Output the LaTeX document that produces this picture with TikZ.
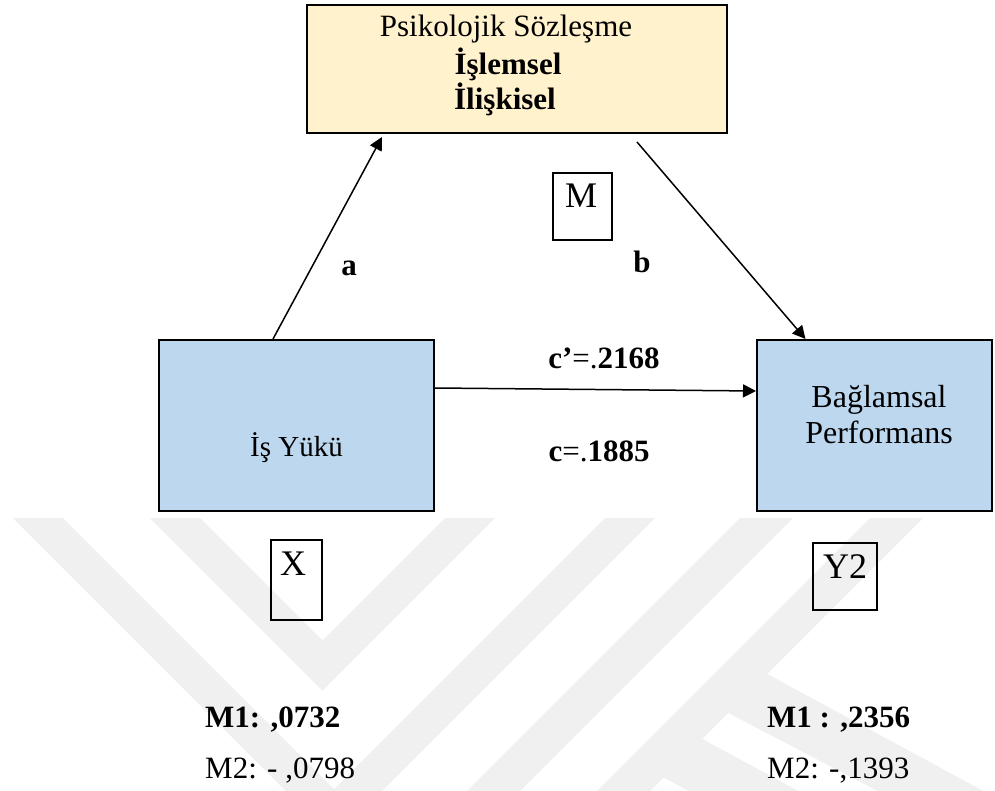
\documentclass[tikz,border=0pt]{standalone}
\usepackage{fontspec}
\setmainfont{Liberation Serif}
\usetikzlibrary{arrows.meta}
\definecolor{medfill}{HTML}{FFF2CC}
\definecolor{varfill}{HTML}{BDD7EE}
\definecolor{wmgray}{HTML}{F0F0F0}
\tikzset{
  mainbox/.style={draw, line width=2pt, inner sep=0pt},
  tagbox/.style={draw, line width=1.6pt, inner sep=0pt},
  patharrow/.style={line width=1.5pt, -{Triangle[length=13pt,width=13pt]}},
  lbl/.style={font=\fontsize{31}{36}\selectfont, inner sep=0pt},
  tag/.style={font=\fontsize{36}{40}\selectfont, inner sep=0pt},
}
\begin{document}
\begin{tikzpicture}[x=1pt,y=-1pt]
\useasboundingbox (0,0) rectangle (995,791);
\fill[white] (0,0) rectangle (995,791);

% faint emblem in the background
\begin{scope}
  \clip (0,518) rectangle (995,791);
  \fill[wmgray] (13,518) -- (63,518) -- (363,818) -- (313,818) -- cycle;
  \fill[wmgray] (150,518) -- (200,518) -- (322.5,640.5) -- (445,518) -- (495,518) -- (322.5,690.5) -- cycle;
  \fill[wmgray] (605,518) -- (655,518) -- (355,818) -- (305,818) -- cycle;
  \fill[wmgray] (740,518) -- (793,518) -- (493,818) -- (440,818) -- cycle;
  \fill[wmgray] (870,518) -- (923,518) -- (623,818) -- (570,818) -- cycle;
  \fill[wmgray] (745,662) -- (1000,800) -- (1000,855) -- (715,706) -- cycle;
  \fill[wmgray] (680,727) -- (1000,900) -- (1000,960) -- (650,770) -- cycle;
\end{scope}

% boxes
\node[mainbox, fill=medfill, minimum width=420pt, minimum height=128pt] (med) at (517,69) {};
\node[mainbox, fill=varfill, minimum width=275pt, minimum height=171pt] (lbox) at (296.5,425.5) {};
\node[mainbox, fill=varfill, minimum width=235pt, minimum height=171pt] (rbox) at (874.5,425.5) {};

% mediator text
\node[lbl, anchor=base] (medt1) at (506,37) {Psikolojik Sözleşme};
\node[lbl, anchor=base] (medt2) at (508,75) {\textbf{İşlemsel}};
\node[lbl, anchor=base] (medt3) at (505,110) {\textbf{İlişkisel}};

% variable texts
\node[lbl, font=\fontsize{29}{34}\selectfont, anchor=base] (ltext) at (296.5,456) {İş Yükü};
\node[lbl, font=\fontsize{32}{36}\selectfont, anchor=base] (rtext1) at (879,407) {Bağlamsal};
\node[lbl, font=\fontsize{32}{36}\selectfont, anchor=base] (rtext2) at (879,443) {Performans};

% paths
\draw[patharrow] ([xshift=-23.5pt]lbox.north) -- ([xshift=-135pt,yshift=-3pt]med.south);
\draw[patharrow] ([xshift=120pt,yshift=-8pt]med.south) -- ([xshift=-69pt]rbox.north);
\draw[patharrow] ([yshift=37.5pt]lbox.east) -- ([yshift=34.5pt]rbox.west);

% path labels
\node[lbl, anchor=base] (la) at (349,276) {\textbf{a}};
\node[lbl, anchor=base] (lb) at (642,273) {\textbf{b}};
\node[lbl, anchor=base] (lcp) at (604,368) {\textbf{c’}=.\textbf{2168}};
\node[lbl, anchor=base] (lc) at (599,461) {\textbf{c}=.\textbf{1885}};

% tag boxes
\node[tagbox, minimum width=59pt, minimum height=67pt] (mbox) at (582.5,206.5) {};
\node[tag, anchor=base] (mlet) at (581,208) {M};
\node[tagbox, minimum width=51pt, minimum height=80pt] (xbox) at (296.5,580) {};
\node[tag, anchor=base] (xlet) at (293,575) {X};
\node[tagbox, minimum width=64pt, minimum height=67pt] (ybox) at (845,576.5) {};
\node[tag, anchor=base] (ylet) at (845,578) {Y2};

% coefficients
\node[lbl, anchor=base west] (m1l) at (205,727) {\textbf{M1: ,0732}};
\node[lbl, anchor=base west] (m2l) at (205,778) {M2: - ,0798};
\node[lbl, anchor=base west] (m1r) at (767,727) {\textbf{M1 : ,2356}};
\node[lbl, anchor=base west] (m2r) at (767,778) {M2: -,1393};
\end{tikzpicture}
\end{document}
